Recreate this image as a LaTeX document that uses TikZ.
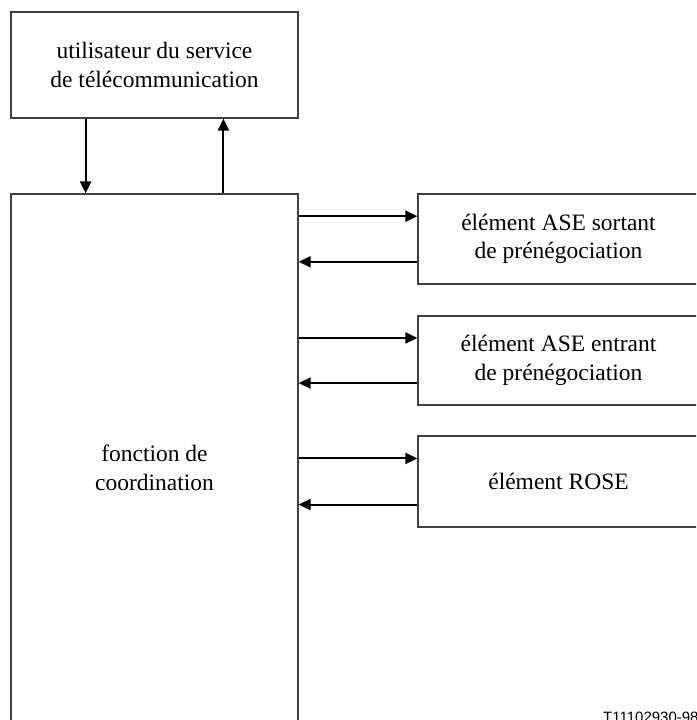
\documentclass[tikz,border=0pt]{standalone}
\usepackage{fontspec}
\setmainfont{Liberation Serif}
\newfontfamily\labelfont{Liberation Sans}
\usetikzlibrary{calc,arrows.meta}
\begin{document}
\begin{tikzpicture}[x=1pt,y=-1pt,
  box/.style={draw=black!75,line width=1.2pt,align=center,inner sep=0pt,
    font=\fontsize{23.5}{28.5}\selectfont},
  arr/.style={line width=2pt,-{Triangle[length=12pt,width=11pt]}}]
\useasboundingbox (0,0) rectangle (696,720);
\clip (0,0) rectangle (696,720);
\node[box,minimum width=287pt,minimum height=106pt] (top) at (154.5,65)
  {utilisateur du service\\de télécommunication};
\node[box,minimum width=287pt,minimum height=548pt] (main) at (154.5,468)
  {fonction de\\coordination};
\node[box,minimum width=281pt,minimum height=90pt] (b1) at (558.5,239)
  {élément ASE sortant\\de prénégociation};
\node[box,minimum width=281pt,minimum height=89pt] (b2) at (558.5,360.5)
  {élément ASE entrant\\de prénégociation};
\node[box,minimum width=281pt,minimum height=91pt] (b3) at (558.5,481.5)
  {élément ROSE};
\node[anchor=base west,font=\labelfont\fontsize{15}{17}\selectfont,inner sep=0pt] (lbl) at (603,722) {T11102930-98};
% vertical arrows
\coordinate (d1) at ($(top.south west)!0.261!(top.south east)$);
\coordinate (u1) at ($(top.south west)!0.739!(top.south east)$);
\draw[arr] (d1) -- (main.north -| d1);
\draw[arr] (main.north -| u1) -- (u1);
% horizontal arrows
\foreach \b in {b1,b2,b3}{
  \coordinate (\b r) at ($(\b.north west)!0.25!(\b.south west)$);
  \coordinate (\b l) at ($(\b.north west)!0.75!(\b.south west)$);
  \draw[arr] (main.east |- \b r) -- (\b r);
  \draw[arr] (\b l) -- (main.east |- \b l);
}
\end{tikzpicture}
\end{document}
